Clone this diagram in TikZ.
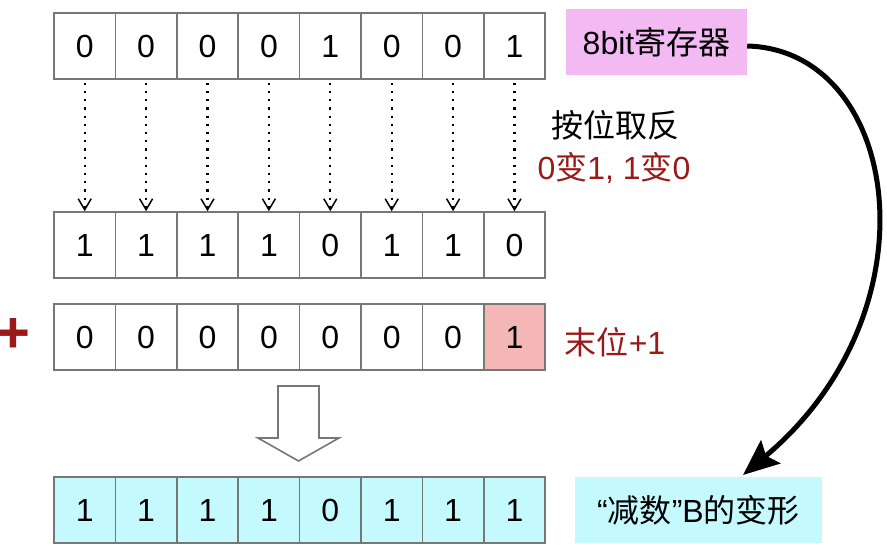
\documentclass[tikz,border=0pt]{standalone}
\usepackage{fontspec}
\setmainfont{Liberation Sans}
\newfontfamily\cjk{Noto Sans CJK SC}
\usetikzlibrary{arrows.meta,calc}
\definecolor{cellborder}{HTML}{777777}
\definecolor{darkred}{HTML}{9A1A1A}
\definecolor{pinkbox}{HTML}{F3B9F3}
\definecolor{pinkcell}{HTML}{F5B6B6}
\definecolor{cyancell}{HTML}{C4FAFE}
\tikzset{
  cell/.style={draw=cellborder, line width=1.6pt, minimum width=61.4pt, minimum height=66pt,
    inner sep=0pt, anchor=center, font=\fontsize{32}{38}\selectfont},
  lbl/.style={font=\fontsize{32}{38}\selectfont, inner sep=0pt},
  redlbl/.style={lbl, text=darkred},
  flip/.style={-{Straight Barb[length=11pt,width=13pt,line width=1.5pt]}, line width=2.2pt,
    dash pattern=on 2.2pt off 6pt},
  bigarrow/.style={-{Stealth[length=36pt,width=30pt,inset=6pt]}, line width=5pt},
  hollow/.style={draw=cellborder, line width=1.6pt, fill=white, line join=miter}
}
\begin{document}
\begin{tikzpicture}[x=1pt,y=-1pt]
\useasboundingbox (0,0) rectangle (887,551);
% rows
\foreach \v [count=\i] in {0,0,0,0,1,0,0,1}
  \node[cell] (a\i) at ({54+61.4*(\i-0.5)},46) {\v};
\foreach \v [count=\i] in {1,1,1,1,0,1,1,0}
  \node[cell] (b\i) at ({54+61.4*(\i-0.5)},245) {\v};
\foreach \v [count=\i] in {0,0,0,0,0,0,0}
  \node[cell] (c\i) at ({54+61.4*(\i-0.5)},337) {\v};
\node[cell, fill=pinkcell] (c8) at ({54+61.4*7.5},337) {1};
\foreach \v [count=\i] in {1,1,1,1,0,1,1,1}
  \node[cell, fill=cyancell] (d\i) at ({54+61.4*(\i-0.5)},510) {\v};
% dotted arrows
\foreach \i in {1,...,8}
  \draw[flip] ($(a\i.south)+(0,3)$) -- (b\i.north);
% labels
\node[lbl, fill=pinkbox, minimum width=181pt, minimum height=66pt] (reg) at (656.5,42) {8bit{\cjk 寄存器}};
\node[lbl] (inv) at (615,125) {\cjk 按位取反};
\node[redlbl] (rule) at (614,168) {0{\cjk 变}1, 1{\cjk 变}0};
\node[redlbl] (plusone) at (615,342) {{\cjk 末位}+1};
\node[text=darkred, font=\fontsize{58}{58}\selectfont\bfseries, inner sep=0pt] (plus) at (13,335) {+};
\node[lbl, fill=cyancell, minimum width=247pt, minimum height=66pt] (res) at (698.5,510) {“{\cjk 减数}”B{\cjk 的变形}};
% hollow arrow
\draw[hollow] (278,386) -- (319,386) -- (319,438) -- (339,438) -- (298.5,461) -- (258,438) -- (278,438) -- cycle;
% curved arrow
\coordinate (tipB) at (743,475);
\draw[bigarrow] ($(reg.east)+(0,4)$) .. controls (900,50) and (940,310) .. (tipB);
\end{tikzpicture}
\end{document}
